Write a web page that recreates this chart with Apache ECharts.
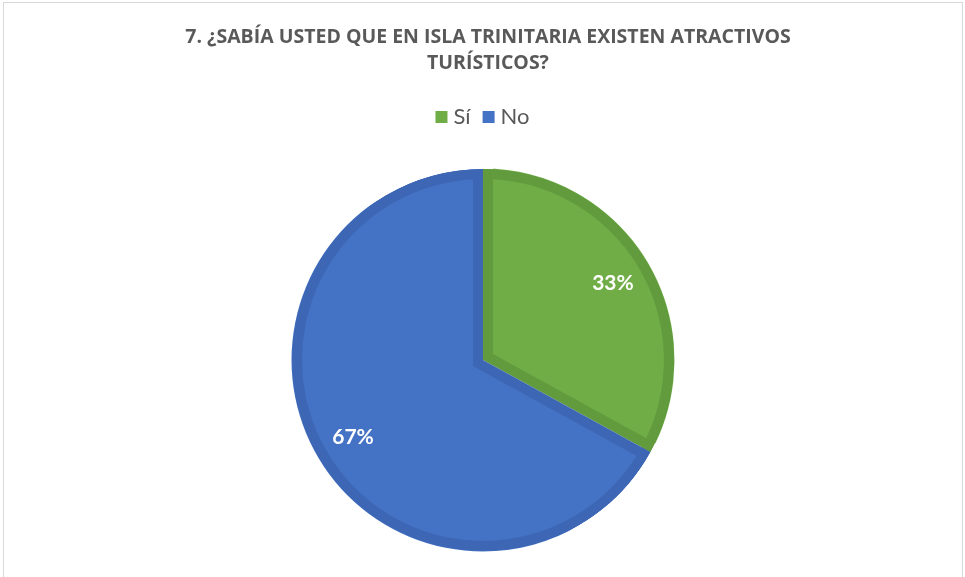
<!DOCTYPE html>
<html>
<head>
<meta charset="utf-8">
<script src="https://cdn.jsdelivr.net/npm/echarts@6/dist/echarts.min.js"></script>
<style>
  html, body { margin: 0; padding: 0; background: #fff; }
  #chart { position: absolute; left: 0; top: 0; width: 965px; height: 577px; }
  #frame { position: absolute; left: 3px; top: 2px; width: 958px; height: 600px; border: 1px solid #d9d9d9; pointer-events: none; }
</style>
</head>
<body>
<div id="chart"></div>
<div id="frame"></div>
<script>
// datos del gráfico
const categories = ["Sí", "No"];
const values = [33, 67];
const lightColors = ["#70AD47", "#4472C4"];
const darkColors = ["#619B3D", "#3D67B5"];

const font = "Lato, 'Open Sans', sans-serif";
const center = [483, 360];

function items(colors, extra) {
  return categories.map((name, i) =>
    Object.assign({ name: name, value: values[i], itemStyle: { color: colors[i] } }, extra || {})
  );
}

const base = {
  type: "pie",
  center: center,
  startAngle: 90,
  clockwise: true,
  silent: true,
  label: { show: false },
  labelLine: { show: false },
  emphasis: { disabled: true },
};

const chart = echarts.init(document.getElementById("chart"));
chart.setOption({
  animation: false,
  title: {
    text: "7. ¿SABÍA USTED QUE EN ISLA TRINITARIA EXISTEN ATRACTIVOS\nTURÍSTICOS?",
    left: 483,
    top: 19,
    textAlign: "center",
    textStyle: { fontFamily: "'Open Sans', sans-serif", fontWeight: "bold", fontSize: 19.5, color: "#595959", lineHeight: 26, align: "center" },
  },
  legend: {
    top: 101,
    left: "center",
    itemWidth: 12,
    itemHeight: 12,
    itemGap: 12,
    icon: "rect",
    textStyle: { fontFamily: font, fontSize: 22, color: "#595959", padding: [0, 0, 0, 1] },
    data: categories.map((name, i) => ({ name: name, itemStyle: { color: lightColors[i] } })),
  },
  series: [
    // base oscuro (bordes)
    Object.assign({}, base, { radius: 191, data: items(darkColors) }),
    // relleno claro desplazado hacia dentro
    Object.assign({}, base, {
      radius: 191,
      selectedMode: "multiple",
      selectedOffset: 11.6,
      select: { itemStyle: { borderWidth: 0 } },
      data: items(lightColors, { selected: true }),
    }),
    // anillo oscuro exterior
    Object.assign({}, base, { radius: [181, 191], data: items(darkColors) }),
    // anillo blanco que tapa lo que sobresale
    Object.assign({}, base, { radius: [191.5, 210], data: items(["#ffffff", "#ffffff"]) }),
    // etiquetas
    Object.assign({}, base, {
      radius: [105, 191],
      data: items(["rgba(0,0,0,0)", "rgba(0,0,0,0)"]),
      label: {
        show: true,
        position: "inside",
        formatter: "{c}%",
        color: "#fff",
        fontFamily: font,
        fontWeight: "bold",
        fontSize: 21,
      },
    }),
  ],
});
</script>
</body>
</html>
